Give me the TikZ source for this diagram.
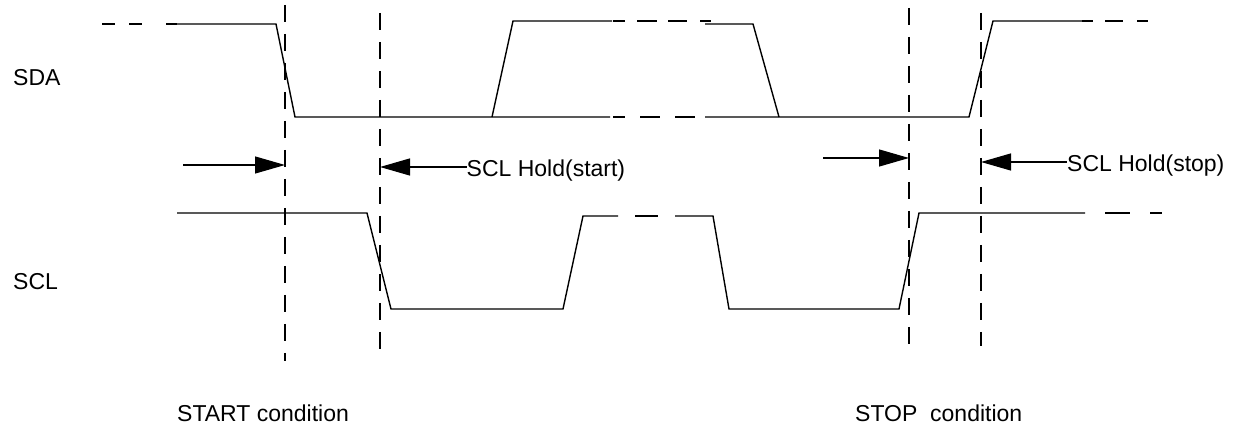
\documentclass[tikz,border=0pt]{standalone}
\usepackage{fontspec}
\setmainfont{Liberation Sans}
\usetikzlibrary{arrows.meta}
\tikzset{
  sig/.style={line width=1.4pt, line join=miter},
  guide/.style={line width=1.2pt, dash pattern=on 17pt off 12pt},
  holdarrow/.style={line width=1.2pt, -{Triangle[length=30pt,width=17pt]}},
  lbl/.style={inner sep=0pt, anchor=base west, font=\fontsize{23}{27}\selectfont}
}
\begin{document}
\begin{tikzpicture}[x=1pt,y=-1pt]
\useasboundingbox (0,0) rectangle (1237,427);
% labels
\node[lbl] (sda) at (13,85.5) {SDA};
\node[lbl] (scl) at (13,289.5) {SCL};
\node[lbl] (hstart) at (466.5,176.5) {SCL Hold(start)};
\node[lbl] (hstop) at (1067,171.5) {SCL Hold(stop)};
\node[lbl] (startc) at (177,421) {START condition};
\node[lbl] (stopc) at (855,421) {STOP\ \ condition};
% guide lines
\coordinate (g1t) at (285,5);   \coordinate (g1b) at (285,361);
\coordinate (g2t) at (380,13);  \coordinate (g2b) at (380,353);
\coordinate (g3t) at (909,8);   \coordinate (g3b) at (909,346);
\coordinate (g4t) at (981,13);  \coordinate (g4b) at (981,346);
\draw[guide] (g1t) -- (g1b);
\draw[guide] (g2t) -- (g2b);
\draw[guide] (g3t) -- (g3b);
\draw[guide] (g4t) -- (g4b);
% SDA
\draw[sig] (102,24) -- (115,24) (129,24) -- (142,24) (166,24) -- (177,24);
\draw[sig] (177,24) -- (276,24) -- (295,117) -- (610,117);
\draw[sig] (492,117) -- (513,21) -- (612,21);
\draw[sig] (613,117) -- (625,117) (640,117) -- (660,117) (675,117) -- (695,117);
\draw[sig] (613,21) -- (625,21) (637,21) -- (657,21) (668,21) -- (687,21) (700,21) -- (711,21);
\draw[sig] (705,24) -- (753,24) -- (779,117);
\draw[sig] (705,117) -- (969,117) -- (993,21) -- (1082,21);
\draw[sig] (1082,21) -- (1093,21) (1105,21) -- (1123,21) (1137,21) -- (1148,21);
% SCL
\draw[sig] (177,213) -- (367,213) -- (391,309) -- (563,309) -- (583,216) -- (618,216);
\draw[sig] (635,216) -- (658,216);
\draw[sig] (675,216) -- (713,216) -- (729,309) -- (899,309) -- (919,213) -- (1085,213);
\draw[sig] (1105,213) -- (1130,213) (1150,213) -- (1162,213);
% hold arrows
\coordinate (a1s) at (183,165);
\coordinate (a3s) at (823,158);
\draw[holdarrow] (a1s) -- (a1s -| g1t);
\draw[holdarrow] (hstart.west |- 0,167) -- (380,167);
\draw[holdarrow] (a3s) -- (a3s -| g3t);
\draw[holdarrow] (hstop.west |- 0,162) -- (981,162);
\end{tikzpicture}
\end{document}
